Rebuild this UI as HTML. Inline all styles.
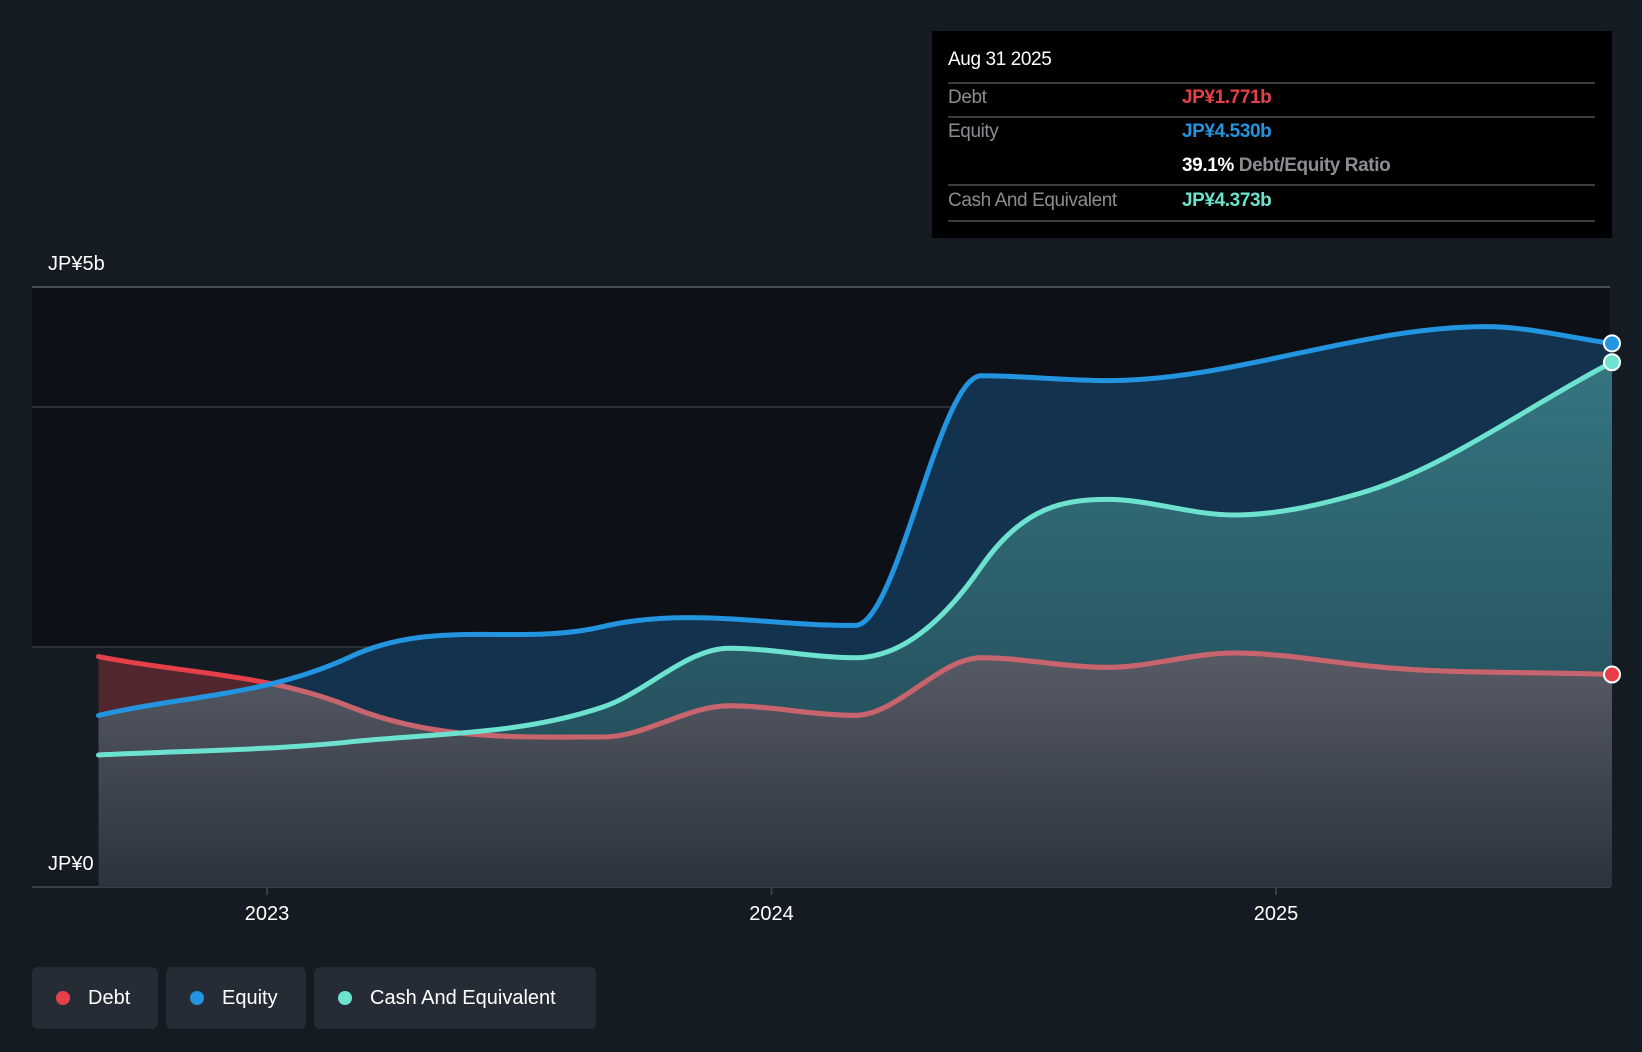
<!DOCTYPE html>
<html><head><meta charset="utf-8"><style>
html,body{margin:0;padding:0;background:#151b23;width:1642px;height:1052px;overflow:hidden;font-family:"Liberation Sans",sans-serif}
#tip{position:absolute;left:932px;top:31px;width:680px;height:207px;background:#000;color:#fff}
.ln{position:absolute;left:16px;width:647px;height:2px;background:#3a3d42}
.t{position:absolute;font-size:19px;letter-spacing:-0.4px;white-space:nowrap}
.lab{color:#8a8d92;left:16px}
.v{font-weight:bold}
.leg{position:absolute;top:967px;height:62px;background:#262c35;border-radius:6px;color:#fff;font-size:20px;line-height:62px;box-sizing:border-box;padding-left:56px}
.leg i{position:absolute;left:24px;top:24px;width:14px;height:14px;border-radius:50%}
</style></head><body>
<svg id="chart" width="1642" height="1052" style="position:absolute;left:0;top:0">
<defs>
<linearGradient id="gC" x1="0" y1="0" x2="0" y2="1"><stop offset="0" stop-color="#357580"/><stop offset="1" stop-color="#1f4350"/></linearGradient>
<linearGradient id="gD" x1="0" y1="0" x2="0" y2="1"><stop offset="0" stop-color="#575b66"/><stop offset="1" stop-color="#2c333d"/></linearGradient>
<clipPath id="eqClip"><path id="eqClipPath"/></clipPath>
</defs>
<rect x="32" y="287" width="1578" height="360" fill="#0d1117"/>
<g id="grid"></g>
<g id="areas"></g>
<g id="lines"></g>
<g id="xaxis"></g>
<text x="48" y="270" fill="#fff" font-size="20">JP¥5b</text>
<text x="48" y="870" fill="#fff" font-size="20">JP¥0</text>
</svg>
<div id="tip">
<div class="t" style="left:16px;top:18px;color:#fff">Aug 31 2025</div>
<div class="ln" style="top:51px"></div>
<div class="t lab" style="top:56px">Debt</div><div class="t v" style="left:250px;top:56px;color:#e5404a">JP¥1.771b</div>
<div class="ln" style="top:85px"></div>
<div class="t lab" style="top:90px">Equity</div><div class="t v" style="left:250px;top:90px;color:#2394e0">JP¥4.530b</div>
<div class="t" style="left:250px;top:124px;color:#fff"><b>39.1%</b> <span style="color:#8a8d92;font-weight:bold">Debt/Equity Ratio</span></div>
<div class="ln" style="top:153px"></div>
<div class="t lab" style="top:159px">Cash And Equivalent</div><div class="t v" style="left:250px;top:159px;color:#6de3cf">JP¥4.373b</div>
<div class="ln" style="top:189px"></div>
</div>
<div class="leg" style="left:32px;width:126px"><i style="background:#e5404a"></i>Debt</div>
<div class="leg" style="left:166px;width:140px"><i style="background:#2394e0"></i>Equity</div>
<div class="leg" style="left:314px;width:282px"><i style="background:#6de3cf"></i>Cash And Equivalent</div>
<script>
const equityDates=[2022.666,2023.166,2023.666,2024.166,2024.416,2024.666,2025.416,2025.666];
const equity=[1.43,1.92,2.17,2.18,4.26,4.22,4.67,4.53];
const cashDates=[2022.666,2023.166,2023.666,2023.916,2024.166,2024.416,2024.666,2024.916,2025.166,2025.666];
const cash=[1.10,1.21,1.50,1.99,1.91,2.67,3.23,3.10,3.28,4.373];
const debtDates=[2022.666,2023.166,2023.666,2023.916,2024.166,2024.416,2024.666,2024.916,2025.166,2025.666];
const debt=[1.92,1.50,1.25,1.51,1.43,1.91,1.83,1.95,1.85,1.771];
const yearTicks=[2023,2024,2025];
const gridVals=[2,4,5];
const X=t=>267+(t-2023)*504.5, Y=v=>887-v*120;
const NS='http://www.w3.org/2000/svg';
function mk(tag,attrs,parent){const e=document.createElementNS(NS,tag);for(const k in attrs)e.setAttribute(k,attrs[k]);parent.appendChild(e);return e;}
function curve(dates,vals){
 const xs=dates.map(X),ys=vals.map(Y),n=xs.length;const d=[],m=[];
 for(let i=0;i<n-1;i++)d.push((ys[i+1]-ys[i])/(xs[i+1]-xs[i]));
 m[0]=d[0];m[n-1]=d[n-2];
 for(let i=1;i<n-1;i++)m[i]=(d[i-1]*d[i]<=0)?0:3*(xs[i+1]-xs[i-1])/((2*xs[i+1]-xs[i]-xs[i-1])/d[i-1]+(xs[i+1]-2*xs[i]+xs[i-1])/d[i]);
 let p='M'+xs[0]+','+ys[0];
 for(let i=0;i<n-1;i++){const h=(xs[i+1]-xs[i])/3;p+=' C'+(xs[i]+h)+','+(ys[i]+m[i]*h)+' '+(xs[i+1]-h)+','+(ys[i+1]-m[i+1]*h)+' '+xs[i+1]+','+ys[i+1];}
 return p;}
function area(dates,vals){return curve(dates,vals)+' L'+X(dates[dates.length-1])+','+Y(0)+' L'+X(dates[0])+','+Y(0)+' Z';}
const grid=document.getElementById('grid');
gridVals.forEach(v=>{const l=mk('line',{x1:32,x2:1610,y1:Y(v),y2:Y(v),stroke:v===5?'#4a4f56':'#2a3038','stroke-width':2},grid);

});
const base=mk('line',{x1:32,x2:1610,y1:Y(0),y2:Y(0),stroke:'#3a4048','stroke-width':2},grid);


document.getElementById('eqClipPath').setAttribute('d',area(equityDates,equity));
const A=document.getElementById('areas');
let a=mk('path',{d:area(debtDates,debt),fill:'#52262d'},A);


a=mk('path',{d:area(equityDates,equity),fill:'#12324d'},A);


a=mk('path',{d:area(cashDates,cash),fill:'url(#gC)'},A);


a=mk('path',{d:area(debtDates,debt),fill:'url(#gD)','clip-path':'url(#eqClip)'},A);


const L=document.getElementById('lines');
let dl=mk('path',{d:curve(debtDates,debt),fill:'none',stroke:'#e5404a','stroke-width':5,'stroke-linecap':'round'},L);


dl=mk('path',{d:curve(debtDates,debt),fill:'none',stroke:'#c7656e','stroke-width':5,'stroke-linecap':'round','clip-path':'url(#eqClip)'},L);


[[equityDates,equity,'#2394e0','equity'],[cashDates,cash,'#6de3cf','cash']].forEach(([dts,v,c,n])=>{
 const p=mk('path',{d:curve(dts,v),fill:'none',stroke:c,'stroke-width':5,'stroke-linecap':'round'},L);
 
 });
[[debtDates,debt,'#e5404a','debt'],[equityDates,equity,'#2394e0','equity'],[cashDates,cash,'#6de3cf','cash']].forEach(([dts,v,c,n])=>{
 const e=mk('circle',{cx:X(dts[dts.length-1]),cy:Y(v[v.length-1]),r:8,fill:c,stroke:'#fff','stroke-width':2},L);
 
 });
const XA=document.getElementById('xaxis');
yearTicks.forEach(y=>{
 const tk=mk('line',{x1:X(y),x2:X(y),y1:887,y2:895,stroke:'#3a4048','stroke-width':2},XA);
 
 
 const t=mk('text',{x:X(y),y:920,fill:'#fff','font-size':20,'text-anchor':'middle'},XA);t.textContent=y;
 
 });
</script>
</body></html>
